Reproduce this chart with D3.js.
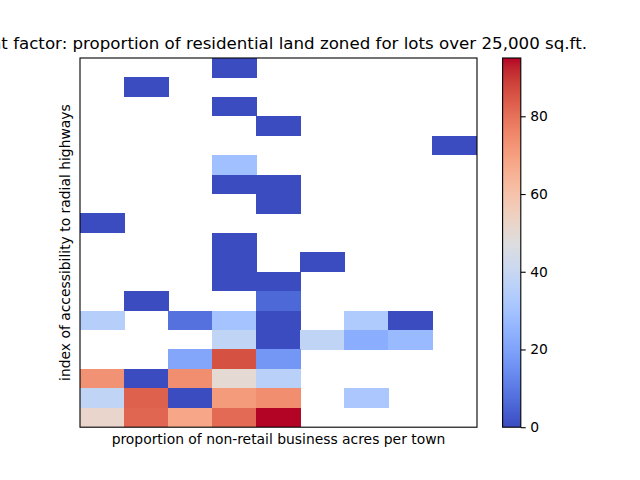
<!DOCTYPE html>
<html>
<head>
<meta charset="utf-8">
<script src="https://cdn.jsdelivr.net/npm/d3@7"></script>
<style>
html,body{margin:0;padding:0;background:#fff;overflow:hidden}
svg{display:block}
text{font-family:"DejaVu Sans",sans-serif;fill:#000}
</style>
</head>
<body>
<svg id="c" width="640" height="480"></svg>
<script>
const titleText = "Weight factor: proportion of residential land zoned for lots over 25,000 sq.ft.";
const xLabel = "proportion of non-retail business acres per town";
const yLabel = "index of accessibility to radial highways";
const colorTicks = [0,20,40,60,80];
const colorMax = 95;
const _ = null;
// rows listed top to bottom, columns left to right
const heat = [
 [_,_,_,0,_,_,_,_,_],
 [_,0,_,_,_,_,_,_,_],
 [_,_,_,0,_,_,_,_,_],
 [_,_,_,_,0,_,_,_,_],
 [_,_,_,_,_,_,_,_,0],
 [_,_,_,29,_,_,_,_,_],
 [_,_,_,0,0,_,_,_,_],
 [_,_,_,_,0,_,_,_,_],
 [0,_,_,_,_,_,_,_,_],
 [_,_,_,0,_,_,_,_,_],
 [_,_,_,0,_,0,_,_,_],
 [_,_,_,0,0,_,_,_,_],
 [_,0,_,_,6,_,_,_,_],
 [35,_,8,30,0,_,33,0,_],
 [_,_,_,38,0,38,23,27,_],
 [_,_,21,86,17,_,_,_,_],
 [73,0,74,50,36,_,_,_,_],
 [38,83,0,71,74,_,32,_,_],
 [52,82,68,81,95,_,_,_,_]
];
const coolwarm = ["#3b4cc0","#445acc","#4d68d7","#5775e1","#6282ea","#6c8ef1","#779af7","#82a5fb","#8db0fe","#98b9ff","#a3c2ff","#aec9fd","#b8d0f9","#c2d5f4","#ccd9ee","#d5dbe6","#dddddd","#e5d8d1","#ecd3c5","#f1ccb9","#f5c4ad","#f7bba0","#f7b194","#f7a687","#f49a7b","#f18d6f","#ec7f63","#e57058","#de604d","#d55042","#cb3e38","#c0282f","#b40426"];

const L=80,R=477,T=58,B=427.2;
const CL=502.6,CR=520.8;
const svg=d3.select("#c");
const color=d3.scaleLinear()
  .domain(coolwarm.map((c,i)=>i/(coolwarm.length-1)*colorMax))
  .range(coolwarm).interpolate(d3.interpolateRgb);
const x=d3.scaleBand().domain(d3.range(heat[0].length)).range([L,R-0.8]);
const y=d3.scaleBand().domain(d3.range(heat.length)).range([T,B]);

const cells=heat.flatMap((row,r)=>row.map((v,c)=>({r,c,v}))).filter(d=>d.v!==null);
svg.append("g").attr("shape-rendering","crispEdges").selectAll("rect").data(cells).join("rect")
  .attr("x",d=>x(d.c)).attr("y",d=>y(d.r))
  .attr("width",x.bandwidth()+0.5).attr("height",y.bandwidth()+0.2)
  .attr("fill",d=>color(d.v));
svg.append("rect").attr("x",L).attr("y",T).attr("width",R-L).attr("height",B-T)
  .attr("fill","none").attr("stroke","#000").attr("stroke-width",1.1);

svg.append("text").attr("x",587).attr("y",T-9).attr("text-anchor","end")
  .attr("font-size","16.67px").text(titleText);
svg.append("text").attr("x",(L+R)/2).attr("y",444).attr("text-anchor","middle")
  .attr("font-size","13.89px").text(xLabel);
svg.append("text").attr("transform",`translate(70,${(T+B)/2}) rotate(-90)`).attr("text-anchor","middle")
  .attr("font-size","13.89px").text(yLabel);

// colorbar
const cs=d3.scaleLinear().domain([0,colorMax]).range([B,T]);
const defs=svg.append("defs");
const g=defs.append("linearGradient").attr("id","cb").attr("x1",0).attr("x2",0).attr("y1",1).attr("y2",0);
g.selectAll("stop").data(coolwarm).join("stop")
  .attr("offset",(d,i)=>i/(coolwarm.length-1)).attr("stop-color",d=>d);
svg.append("rect").attr("x",CL).attr("y",T).attr("width",CR-CL).attr("height",B-T)
  .attr("fill","url(#cb)").attr("stroke","#000").attr("stroke-width",1.1);
const axis=d3.axisRight(cs).tickValues(colorTicks).tickSize(4.9).tickPadding(4.5).tickFormat(d3.format("d"));
const ag=svg.append("g").attr("transform",`translate(${CR},0)`).call(axis);
ag.select(".domain").remove();
ag.selectAll("line").attr("stroke","#000").attr("stroke-width",1.1);
ag.selectAll("text").attr("font-size","13.89px").attr("font-family",'"DejaVu Sans"').attr("fill","#000");
</script>
</body>
</html>
